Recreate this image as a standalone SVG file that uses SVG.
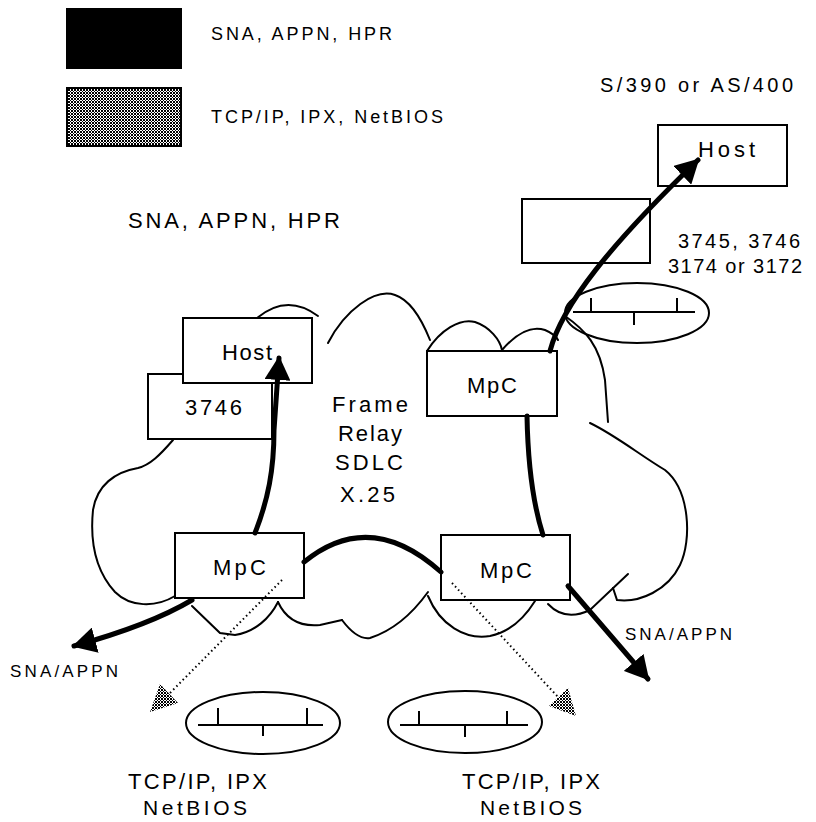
<svg xmlns="http://www.w3.org/2000/svg" width="816" height="822" viewBox="0 0 816 822">
<defs>
<pattern id="dots" width="3" height="3" patternUnits="userSpaceOnUse">
<rect width="3" height="3" fill="#fff"/>
<rect x="0" y="0" width="1" height="1" fill="#000"/>
<rect x="2" y="0" width="1" height="1" fill="#000"/>
<rect x="1" y="1" width="1" height="1" fill="#000"/>
<rect x="0" y="2" width="1" height="1" fill="#000"/>
<rect x="2" y="2" width="1" height="1" fill="#000"/>
</pattern>
<marker id="ah" viewBox="0 0 24 26" refX="22" refY="13" markerWidth="24" markerHeight="26" markerUnits="userSpaceOnUse" orient="auto">
<path d="M0,0 L24,13 L0,26 z" fill="#000"/>
</marker>
<style>
.box{fill:#fff;stroke:#000;stroke-width:2}
.cloud{fill:none;stroke:#000;stroke-width:2;stroke-linecap:round}
.thick{fill:none;stroke:#000;stroke-width:5;stroke-linecap:round}
.dotted{fill:none;stroke:#000;stroke-width:2;stroke-dasharray:1.5 3}
.bus{fill:none;stroke:#000;stroke-width:2}
text{font-family:"Liberation Sans",Arial,sans-serif;fill:#000}
.t22{font-size:22px}
.t21{font-size:21px}
.t20{font-size:20px}
.t18{font-size:18px}
.t16{font-size:17px}
</style>
</defs>
<rect width="816" height="822" fill="#fff"/>

<g id="legend">
<rect x="67" y="9" width="114" height="59" fill="#000" stroke="#000" stroke-width="2"/>
<text class="t18" x="211" y="40" textLength="181" lengthAdjust="spacing">SNA, APPN, HPR</text>
<rect x="67" y="88" width="114" height="58" fill="url(#dots)" stroke="#000" stroke-width="2"/>
<text class="t18" x="211" y="123" textLength="232" lengthAdjust="spacing">TCP/IP, IPX, NetBIOS</text>
</g>

<g id="labels">
<text class="t20" x="600" y="92" textLength="193" lengthAdjust="spacing">S/390 or AS/400</text>
<text class="t20" x="678" y="248" textLength="122" lengthAdjust="spacing">3745, 3746</text>
<text class="t20" x="668" y="273" textLength="134" lengthAdjust="spacing">3174 or 3172</text>
<text class="t22" x="128" y="228" textLength="212" lengthAdjust="spacing">SNA, APPN, HPR</text>
<text class="t22" x="332" y="412" textLength="76" lengthAdjust="spacing">Frame</text>
<text class="t22" x="338" y="441" textLength="64" lengthAdjust="spacing">Relay</text>
<text class="t22" x="335" y="470" textLength="68" lengthAdjust="spacing">SDLC</text>
<text class="t22" x="340" y="502" textLength="55" lengthAdjust="spacing">X.25</text>
<text class="t16" x="10" y="677" textLength="108" lengthAdjust="spacing">SNA/APPN</text>
<text class="t16" x="625" y="640" textLength="107" lengthAdjust="spacing">SNA/APPN</text>
<text class="t22" x="128" y="789" textLength="139" lengthAdjust="spacing">TCP/IP, IPX</text>
<text class="t21" x="143" y="815" textLength="104" lengthAdjust="spacing">NetBIOS</text>
<text class="t22" x="462" y="789" textLength="138" lengthAdjust="spacing">TCP/IP, IPX</text>
<text class="t21" x="480" y="815" textLength="102" lengthAdjust="spacing">NetBIOS</text>
</g>

<g id="cloud">
<path class="cloud" d="M257 318 Q287 293 318 316"/>
<path class="cloud" d="M328 343 C345 310 375 288 395 295 C410 300 422 320 430 340"/>
<path class="cloud" d="M427 351 C440 330 460 318 475 322 C490 327 500 340 502 350"/>
<path class="cloud" d="M502 350 C515 335 530 325 545 330 C552 333 556 336 558 340"/>
<path class="cloud" d="M565 316 C585 330 600 345 605 380 L608 422"/>
<path class="cloud" d="M590 423 C615 435 640 455 665 470 C690 490 692 540 680 565 C668 590 640 603 617 600 L613 588"/>
<path class="cloud" d="M548 604 Q565 622 590 610 L628 574"/>
<path class="cloud" d="M428 596 C440 625 465 640 490 636 C510 632 525 617 535 601"/>
<path class="cloud" d="M428 592 C415 610 395 630 370 638 C358 640 348 628 342 620"/>
<path class="cloud" d="M278 602 Q290 628 320 625 L342 620"/>
<path class="cloud" d="M278 602 C270 618 255 632 235 635 L220 633 L192 606"/>
<path class="cloud" d="M173 440 C160 455 150 465 138 468 C115 472 97 485 93 510 C90 540 95 570 115 592 C130 607 155 608 175 596"/>
</g>

<g id="node-3746">
<rect class="box" x="148" y="374" width="124" height="65"/>
<text class="t22" x="185" y="415" textLength="57" lengthAdjust="spacing">3746</text>
</g>
<g id="node-host-left">
<rect class="box" x="183" y="318" width="129" height="65"/>
<text class="t22" x="222" y="360" textLength="50" lengthAdjust="spacing">Host</text>
</g>
<g id="node-host-right">
<rect class="box" x="658" y="125" width="129" height="61"/>
<text class="t22" x="698" y="157" textLength="57" lengthAdjust="spacing">Host</text>
</g>
<g id="node-controller">
<rect class="box" x="522" y="199" width="128" height="64"/>
</g>
<g id="node-mpc-top">
<rect class="box" x="427" y="351" width="130" height="65"/>
<text class="t22" x="467" y="393" textLength="50" lengthAdjust="spacing">MpC</text>
</g>
<g id="node-mpc-left">
<rect class="box" x="175" y="533" width="129" height="65"/>
<text class="t22" x="213" y="575" textLength="53" lengthAdjust="spacing">MpC</text>
</g>
<g id="node-mpc-right">
<rect class="box" x="441" y="535" width="129" height="65"/>
<text class="t22" x="480" y="578" textLength="52" lengthAdjust="spacing">MpC</text>
</g>

<g id="lan-top">
<ellipse class="cloud" cx="637" cy="313" rx="72" ry="30"/>
<path class="bus" d="M573 312 H695 M591 298 V312 M677 298 V312 M634 312 V325"/>
</g>
<g id="lan-left">
<ellipse class="cloud" cx="263" cy="723" rx="77" ry="31"/>
<path class="bus" d="M198 725 H323 M218 708 V725 M307 708 V725 M263 725 V736"/>
</g>
<g id="lan-right">
<ellipse class="cloud" cx="465" cy="722" rx="77" ry="31"/>
<path class="bus" d="M400 725 H528 M419 711 V725 M507 711 V725 M465 725 V737"/>
</g>

<g id="connectors">
<path class="thick" d="M255 533 C268 500 274 470 274 430 L279 358" marker-end="url(#ah)"/>
<path class="thick" d="M304 562 Q370 508 441 572"/>
<path class="thick" d="M527 416 C528 470 535 510 543 535"/>
<path class="thick" d="M568 586 L648 679" marker-end="url(#ah)"/>
<path class="thick" d="M192 600 Q150 625 74 646" marker-end="url(#ah)"/>
<path class="thick" d="M550 351 C562 305 610 245 698 160" marker-end="url(#ah)"/>
<path class="dotted" d="M282 580 L169 694"/>
<polygon points="150,712 178,703 160,684" fill="url(#dots)"/>
<path class="dotted" d="M452 583 L558 697"/>
<polygon points="576,716 549,706 568,688" fill="url(#dots)"/>
</g>
</svg>
